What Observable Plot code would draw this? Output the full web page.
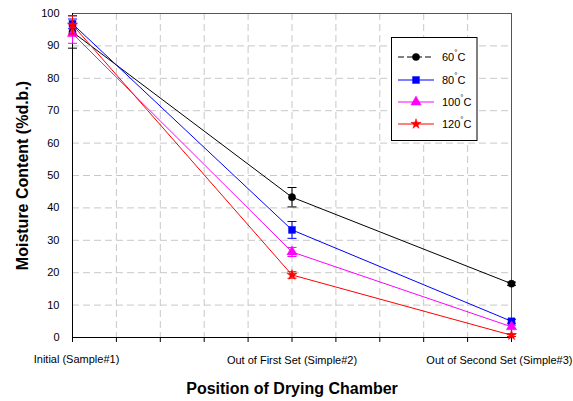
<!DOCTYPE html>
<html><head><meta charset="utf-8">
<script src="https://cdn.jsdelivr.net/npm/d3@7"></script>
<script src="https://cdn.jsdelivr.net/npm/@observablehq/plot@0.6"></script>
<style>body{margin:0;background:#fff;} #chart{position:relative;width:573px;height:401px;}</style>
</head><body><div id="chart"></div>
<script>
// Categories (positions of drying chamber) and their x index on the 0..10 axis
const positions = ["Initial (Sample#1)", "Out of First Set (Simple#2)", "Out of Second Set (Simple#3)"];
const positionX = [0, 5, 10];
const xTicks = [0,1,2,3,4,5,6,7,8,9,10];
const yTicks = [0,10,20,30,40,50,60,70,80,90,100];

const seriesNames = ["60", "80", "100", "120"];
const seriesColors = ["#000000", "#0000ff", "#ff00ff", "#ff0000"];
const seriesSymbols = ["circle", "square", "triangle", "star"];

// Mean moisture content (%d.b.) and error bars
const m60 = [94.3, 43.3, 16.6];
const e60 = [5.0, 3.0, 0.5];
const m80 = [96.8, 33.2, 5.0];
const e80 = [1.5, 2.6, 0.6];
const m100 = [93.8, 26.4, 3.3];
const e100 = [3.0, 1.4, 0.5];
const m120 = [96.5, 19.3, 0.7];
const e120 = [2.8, 1.0, 0.4];

const means = [m60, m80, m100, m120];
const errs = [e60, e80, e100, e120];

const rows = [];
seriesNames.forEach((s, si) => {
  positionX.forEach((x, i) => {
    rows.push({series: s, si, x, y: means[si][i], lo: means[si][i] - errs[si][i], hi: means[si][i] + errs[si][i]});
  });
});

const capSymbol = {draw(ctx, size) { const r = 4.5; ctx.moveTo(-r, 0); ctx.lineTo(r, 0); }};
const symR = [3.6, 3.9, 3.8, 3.2];

const marks = [
  Plot.ruleY(yTicks.slice(1, -1), {stroke: "#c8c8c8", strokeDasharray: "7,4", strokeWidth: 1}),
  Plot.ruleX(xTicks.slice(1, -1), {stroke: "#c8c8c8", strokeDasharray: "7,4", strokeWidth: 1}),
  Plot.frame({stroke: "#555"}),
  Plot.axisY({ticks: yTicks, tickSize: 0, tickPadding: 13, label: null, fontSize: 11}),
  Plot.axisX({ticks: xTicks, tickSize: 5, tickFormat: () => "", label: null}),
  Plot.ruleX([0], {stroke: "#000"}),
  Plot.ruleY([0], {stroke: "#000"})
];

seriesNames.forEach((s, si) => {
  const d = rows.filter(r => r.si === si);
  const c = seriesColors[si];
  marks.push(
    Plot.line(d, {x: "x", y: "y", stroke: c, strokeWidth: 1}),
    Plot.ruleX(d, {x: "x", y1: "lo", y2: "hi", stroke: c, strokeWidth: 1}),
    Plot.dot(d, {x: "x", y: "lo", symbol: capSymbol, stroke: c, strokeWidth: 1}),
    Plot.dot(d, {x: "x", y: "hi", symbol: capSymbol, stroke: c, strokeWidth: 1}),
    Plot.dot(d, {x: "x", y: "y", symbol: seriesSymbols[si], r: symR[si], fill: c, stroke: c, strokeWidth: 0.5})
  );
});

marks.push(
  Plot.text([positions[0]], {x: [positionX[0]], text: d => d, frameAnchor: "bottom", dy: 25, dx: 4, fontSize: 11}),
  Plot.text([positions[1]], {x: [positionX[1]], text: d => d, frameAnchor: "bottom", dy: 26, fontSize: 11}),
  Plot.text([positions[2]], {x: [positionX[2]], text: d => d, frameAnchor: "bottom", dy: 26, dx: 61, textAnchor: "end", fontSize: 11}),
  Plot.text(["Position of Drying Chamber"], {frameAnchor: "bottom", dy: 56, fontSize: 16, fontWeight: "bold"}),
  Plot.text(["Moisture Content (%d.b.)"], {frameAnchor: "left", dx: -50, rotate: -90, textAnchor: "middle", fontSize: 16, fontWeight: "bold"})
);

const chart = Plot.plot({
  width: 573, height: 401,
  marginTop: 13, marginBottom: 64, marginLeft: 72, marginRight: 62,
  x: {domain: [0, 10]},
  y: {domain: [0, 100]},
  style: {fontFamily: "'Liberation Sans', Arial, sans-serif", fontSize: "11px", color: "#000", background: "#fff"},
  marks
});
document.getElementById("chart").appendChild(chart);

// Legend box
const svg = d3.select(chart);
const lg = svg.append("g").attr("font-family", "'Liberation Sans', Arial, sans-serif")
  .attr("font-size", 11).attr("text-anchor", "start");
lg.append("rect").attr("x", 391.5).attr("y", 37.5).attr("width", 85.5).attr("height", 103)
  .attr("fill", "#fff").attr("stroke", "#000").attr("stroke-width", 1);
const legendY = [57, 80, 102, 124];
const d3sym = {circle: d3.symbolCircle, square: d3.symbolSquare, triangle: d3.symbolTriangle, star: d3.symbolStar};
seriesNames.forEach((s, si) => {
  const y = legendY[si], c = seriesColors[si];
  lg.append("line").attr("x1", 398).attr("x2", 434).attr("y1", y).attr("y2", y)
    .attr("stroke", c).attr("stroke-width", 1)
    .attr("stroke-dasharray", si === 0 ? "6,3" : null);
  lg.append("path").attr("transform", `translate(416,${y})`)
    .attr("d", d3.symbol(d3sym[seriesSymbols[si]], Math.PI * symR[si] * symR[si])())
    .attr("fill", c).attr("stroke", c).attr("stroke-width", 0.5);
  const t = lg.append("text").attr("x", 442).attr("y", y + 4).attr("text-anchor", "start");
  t.append("tspan").text(s);
  t.append("tspan").attr("dy", -6).attr("font-size", 8).text("°");
  t.append("tspan").attr("dy", 6).text("C");
});
</script>
</body></html>
